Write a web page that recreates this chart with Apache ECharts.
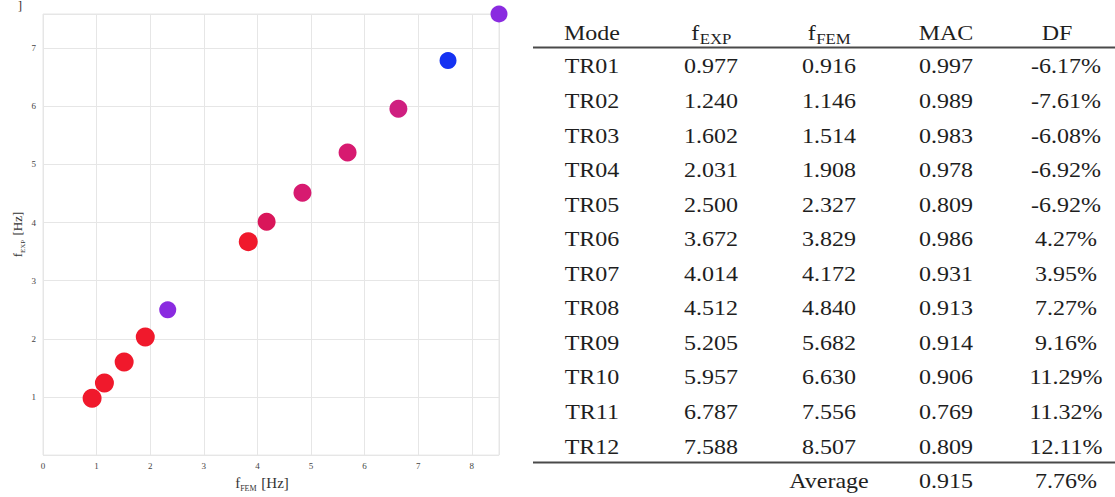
<!DOCTYPE html>
<html><head><meta charset="utf-8">
<script src="https://cdn.jsdelivr.net/npm/echarts@6/dist/echarts.min.js"></script>
<style>html,body{margin:0;padding:0;background:#fff}#c{width:1115px;height:497px}</style>
</head><body><div id="c"></div>
<script>
// ---- data ----
const modes = ['TR01','TR02','TR03','TR04','TR05','TR06','TR07','TR08','TR09','TR10','TR11','TR12'];
const fExp = [0.977, 1.240, 1.602, 2.031, 2.500, 3.672, 4.014, 4.512, 5.205, 5.957, 6.787, 7.588];
const fFem = [0.916, 1.146, 1.514, 1.908, 2.327, 3.829, 4.172, 4.840, 5.682, 6.630, 7.556, 8.507];
const mac  = [0.997, 0.989, 0.983, 0.978, 0.809, 0.986, 0.931, 0.913, 0.914, 0.906, 0.769, 0.809];
const df   = [-6.17, -7.61, -6.08, -6.92, -6.92, 4.27, 3.95, 7.27, 9.16, 11.29, 11.32, 12.11];
const avgLabel = 'Average';
const avgMac = 0.915;
const avgDf = 7.76;
const headers = ['Mode', 'f', 'f', 'MAC', 'DF'];
const headerSubs = ['', 'EXP', 'FEM', '', ''];

// ---- layout / style ----
const SERIF = "'Liberation Serif','Times New Roman',serif";
const INK = '#1e1e1e';
const SX = 1.2;
const colX = [592, 711, 829, 946, 1066];
const headX = [592, 711, 829, 946, 1057];
const headY = 33, row0Y = 66.7, rowH = 34.55, avgY = 481.5;

function txt(x, y, s, size, align) {
  return { type: 'text', x: x, y: y, scaleX: SX, silent: true,
    style: { text: s, fontSize: size, fontFamily: SERIF, fill: INK,
      align: align || 'center', verticalAlign: 'middle',
      textAlign: align || 'center', textVerticalAlign: 'middle' } };
}

const graphics = [];
headers.forEach(function (h, c) {
  if (headerSubs[c]) {
    const mainW = 0.333 * 20 * SX;
    const subW = headerSubs[c] === 'EXP' ? 1.889 * 14 * SX : 2.056 * 14 * SX;
    const start = headX[c] - (mainW + subW) / 2;
    graphics.push(txt(start + mainW, headY, h, 20, 'right'));
    graphics.push(txt(start + mainW + 0.5, headY + 6, headerSubs[c], 14, 'left'));
  } else {
    graphics.push(txt(headX[c], headY, h, 20));
  }
});
graphics.push({ type: 'line', silent: true, shape: { x1: 533, y1: 47.5, x2: 1115, y2: 47.5 }, style: { stroke: '#4a4a4a', lineWidth: 2 } });
graphics.push({ type: 'line', silent: true, shape: { x1: 533, y1: 462.5, x2: 1115, y2: 462.5 }, style: { stroke: '#4a4a4a', lineWidth: 2 } });
modes.forEach(function (m, i) {
  const y = row0Y + i * rowH;
  const cells = [m, fExp[i].toFixed(3), fFem[i].toFixed(3), mac[i].toFixed(3), df[i].toFixed(2) + '%'];
  cells.forEach(function (s, c) { graphics.push(txt(colX[c], y, s, 20)); });
});
graphics.push(txt(colX[2], avgY, avgLabel, 20));
graphics.push(txt(colX[3], avgY, avgMac.toFixed(3), 20));
graphics.push(txt(colX[4], avgY, avgDf.toFixed(2) + '%', 20));
graphics.push({ type: 'text', x: 20, y: 0, silent: true,
  style: { text: ']', fontSize: 12, fontFamily: SERIF, fill: INK, align: 'center', verticalAlign: 'top', textAlign: 'center', textVerticalAlign: 'top' } });

const nameRichY = {
  f: { fontSize: 13, fontFamily: SERIF, color: '#333', verticalAlign: 'top' },
  s: { fontSize: 7, fontFamily: SERIF, color: '#333', verticalAlign: 'top', padding: [8, 1, 0, 0] }
};
const nameRichX = {
  f: { fontSize: 15, fontFamily: SERIF, color: '#333', verticalAlign: 'top' },
  s: { fontSize: 8, fontFamily: SERIF, color: '#333', verticalAlign: 'top', padding: [9, 1, 0, 0] }
};
const gridColor = '#e6e6e6';
const tickLabel = { fontFamily: SERIF, fontSize: 9, color: '#444' };

const chart = echarts.init(document.getElementById('c'), null, { renderer: 'svg' });
chart.setOption({
  backgroundColor: '#fff',
  animation: false,
  grid: { left: 43, right: 616, top: 14, bottom: 37, show: true, borderColor: gridColor, borderWidth: 1, containLabel: false },
  xAxis: {
    type: 'value', min: 0, max: 'dataMax', interval: 1,
    axisLine: { show: false }, axisTick: { show: false },
    splitLine: { show: true, lineStyle: { color: gridColor, width: 1 } },
    axisLabel: Object.assign({ margin: 6, showMaxLabel: false, showMinLabel: true }, tickLabel),
    name: '{f|f}{s|FEM}{f| [Hz]}', nameLocation: 'middle', nameGap: 18,
    nameTextStyle: { fontSize: 15, fontFamily: SERIF, color: '#333', padding: [0, 18, 0, 0], rich: nameRichX }
  },
  yAxis: {
    type: 'value', min: 0, max: 'dataMax', interval: 1,
    axisLine: { show: false }, axisTick: { show: false },
    splitLine: { show: true, lineStyle: { color: gridColor, width: 1 } },
    axisLabel: Object.assign({ margin: 7, showMaxLabel: false, showMinLabel: false }, tickLabel),
    name: '{f|f}{s|EXP}{f| [Hz]}', nameLocation: 'middle', nameGap: 17, nameRotate: 90,
    nameTextStyle: { fontSize: 13, fontFamily: SERIF, color: '#333', rich: nameRichY }
  },
  visualMap: {
    type: 'piecewise', show: false, dimension: 2, seriesIndex: 0,
    pieces: [
      { lt: 0.79, color: '#1532f2', symbolSize: 17 },
      { gte: 0.79, lt: 0.85, color: '#8a2be0', symbolSize: 17 },
      { gte: 0.85, lt: 0.91, color: '#cf1f80', symbolSize: 18 },
      { gte: 0.91, lt: 0.92, color: '#d71a70', symbolSize: 18 },
      { gte: 0.92, lt: 0.95, color: '#d9165a', symbolSize: 18 },
      { gte: 0.95, color: '#f0192c', symbolSize: 19 }
    ]
  },
  series: [{
    type: 'scatter',
    data: fFem.map(function (x, i) { return [x, fExp[i], mac[i]]; }),
    itemStyle: { opacity: 1 }
  }],
  graphic: graphics
});
</script></body></html>
